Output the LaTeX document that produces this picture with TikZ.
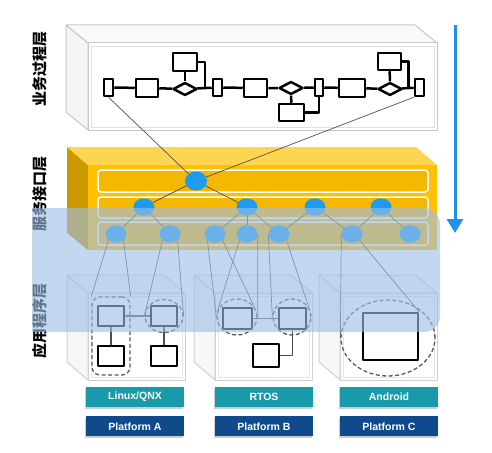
\documentclass[tikz,border=0pt]{standalone}
\usepackage{fontspec}
\newfontfamily\cjk{Noto Sans CJK SC}
\newfontfamily\tilefont{Liberation Sans}
\usetikzlibrary{shapes.geometric,arrows.meta,calc,positioning,shadows}

\definecolor{ifyellow}{RGB}{255,192,0}
\definecolor{iftop}{RGB}{255,212,80}
\definecolor{ifside}{RGB}{204,152,0}
\definecolor{svcblue}{RGB}{28,155,240}
\definecolor{appblue}{RGB}{158,190,230}
\definecolor{osteal}{RGB}{24,154,168}
\definecolor{pfblue}{RGB}{14,74,140}
\definecolor{linkgray}{RGB}{80,80,80}
\definecolor{flowarrow}{RGB}{30,144,240}

\begin{document}
\begin{tikzpicture}[x=1pt, y=-1pt, line join=round,
    flowbox/.style={draw=black, line width=2.5pt, fill=white, inner sep=0pt},
    flowgate/.style={draw=black, line width=2.5pt, fill=white, diamond, aspect=1.8, inner sep=0pt, minimum width=24pt, minimum height=13pt},
    svc/.style={ellipse, fill=svcblue, inner sep=0pt, minimum width=21pt, minimum height=17.5pt},
    link/.style={draw=linkgray, line width=0.7pt},
    appbox/.style={draw=black, line width=2.3pt, fill=white, inner sep=0pt},
    dashring/.style={draw=black!65, line width=1.3pt, dash pattern=on 4pt off 2.5pt, inner sep=0pt},
    osbox/.style={fill=osteal, text=white, font=\tilefont\bfseries\fontsize{10.5}{12}\selectfont, minimum width=98pt, minimum height=20pt, inner sep=0pt, drop shadow={shadow xshift=-1.5pt, shadow yshift=-2pt, opacity=0.4}},
    pfbox/.style={osbox, fill=pfblue},
    layerlabel/.style={rotate=90, font=\cjk\bfseries\fontsize{15}{15}\selectfont, inner sep=0pt}]
    \useasboundingbox (0,0) rectangle (492,452);

    % business process layer
    \filldraw[draw=black!22, fill=black!4, line width=1pt] (88,43) -- (66,25) -- (66,112) -- (88,130) -- cycle;
    \filldraw[draw=black!22, fill=black!2, line width=1pt] (88,43) -- (66,25) -- (415,25) -- (437,43) -- cycle;
    \filldraw[draw=black!22, fill=white, line width=1pt] (88,43) rectangle (437,130);
    \draw[black!12] (91,46) rectangle (434,127);

    % service interface layer
    \fill[ifside] (88,165) -- (67,147) -- (67,233) -- (88,250) -- cycle;
    \fill[iftop] (88,165) -- (67,147) -- (416,147) -- (437,165) -- cycle;
    \fill[ifyellow] (88,165) rectangle (437,250);
    \foreach \t/\b in {170/192, 197/218, 222/245}
        \draw[white, line width=1.5pt, fill=ifyellow!96!black, rounded corners=3pt] (98,\t) rectangle (428,\b);

    % application layer
    \foreach \l/\r in {88/185, 215/312, 340/437} {
        \filldraw[draw=black!18, fill=black!3, line width=1pt] (\l,293) -- (\l-21,275) -- (\l-21,362) -- (\l,380) -- cycle;
        \filldraw[draw=black!18, fill=black!2, line width=1pt] (\l,293) -- (\l-21,275) -- (\r-21,275) -- (\r,293) -- cycle;
        \filldraw[draw=black!18, fill=white, line width=1pt] (\l,293) rectangle (\r,380);
        \draw[black!10] (\l+3,296) rectangle (\r-3,377);
    }

    % process flow
    \node[flowbox, minimum width=9pt, minimum height=17pt]  (p1)  at (108.5,87.5) {};
    \node[flowbox, minimum width=22pt, minimum height=18pt] (p2)  at (147,88)     {};
    \node[flowgate]                                         (d1)  at (185,89)     {};
    \node[flowbox, minimum width=24pt, minimum height=18pt] (p3)  at (185,62)     {};
    \node[flowbox, minimum width=9pt, minimum height=17pt]  (p4)  at (217.5,87.5) {};
    \node[flowbox, minimum width=23pt, minimum height=18pt] (p5)  at (255.5,88)   {};
    \node[flowgate]                                         (d2)  at (291,88)     {};
    \node[flowbox, minimum width=25pt, minimum height=17pt] (p6)  at (291.5,112.5) {};
    \node[flowbox, minimum width=8pt, minimum height=17pt]  (p7)  at (319,87.5)   {};
    \node[flowbox, minimum width=26pt, minimum height=18pt] (p8)  at (352,88)     {};
    \node[flowgate]                                         (d3)  at (390,89)     {};
    \node[flowbox, minimum width=23pt, minimum height=17pt] (p9)  at (389.5,61.5) {};
    \node[flowbox, minimum width=9pt, minimum height=17pt]  (p10) at (419.5,87.5) {};
    \coordinate (j1) at ($(d1.east)!.5!(p4.west)$);
    \coordinate (j2) at ($(d3.east)!.5!(p10.west)$);

    \draw[line width=2.5pt] (p1) -- (p2) -- (d1) -- (p4) -- (p5) -- (d2) -- (p7) -- (p8) -- (d3) -- (p10);
    \draw[line width=2.5pt] (d1) -- (p3);
    \draw[line width=2.5pt] (p3.east) -| (j1);
    \draw[line width=2.5pt] (d2) -- (p6);
    \draw[line width=2.5pt] (p6.east) -| (p7.south);
    \draw[line width=2.5pt] (d3) -- (p9);
    \draw[line width=2.5pt] (p9.east) -| (j2);

    % services
    \node[svc, minimum width=22pt, minimum height=19pt] (s0) at (196,181) {};
    \node[svc] (a1) at (144,207) {};
    \node[svc] (a2) at (247,207) {};
    \node[svc] (a3) at (315,207) {};
    \node[svc] (a4) at (381,207) {};
    \node[svc] (b1) at (116,234) {};
    \node[svc] (b2) at (170,234) {};
    \node[svc] (b3) at (215,234) {};
    \node[svc] (b4) at (247,234) {};
    \node[svc] (b5) at (279,234) {};
    \node[svc] (b6) at (352,234) {};
    \node[svc] (b7) at (410,234) {};

    \draw[link] (p1.south) -- (s0);
    \draw[link] (p10.south west) -- (s0);
    \path[link] (s0) edge (a1) edge (a2)
                (a1) edge (b1) edge (b2)
                (a2) edge (b3) edge (b4) edge (b5)
                (a3) edge (b5) edge (b6)
                (a4) edge (b6) edge (b7);

    % applications
    \node[appbox, minimum width=26pt, minimum height=20pt] (ra1) at (111,316) {};
    \node[appbox, minimum width=26pt, minimum height=20pt] (ra2) at (164,316) {};
    \node[appbox, minimum width=26pt, minimum height=20pt] (ra3) at (111,356) {};
    \node[appbox, minimum width=26pt, minimum height=20pt] (ra4) at (164,356) {};
    \node[appbox, minimum width=29pt, minimum height=21pt] (rb1) at (237.5,318.5) {};
    \node[appbox, minimum width=27pt, minimum height=21pt] (rb2) at (292.5,318.5) {};
    \node[appbox, minimum width=26pt, minimum height=23pt] (rb3) at (266,355.5) {};
    \node[appbox, minimum width=55pt, minimum height=47pt] (rc)  at (390.5,336.5) {};

    \node[dashring, rounded corners=8pt, minimum width=38pt, minimum height=78pt] (ga) at (111,336) {};
    \node[dashring, ellipse, minimum width=38pt, minimum height=33pt] (gA) at (164,316) {};
    \node[dashring, ellipse, minimum width=40pt, minimum height=36pt] (gb) at (237,317) {};
    \node[dashring, ellipse, minimum width=38pt, minimum height=36pt] (gB) at (292,317) {};
    \node[dashring, ellipse, minimum width=94pt, minimum height=76pt] (gc) at (388,338) {};

    \draw[black!70, line width=1.4pt] (ra1) -- (ra2);
    \draw[black!70, line width=1.4pt] (ra1) -- (ra3);
    \draw[black!70, line width=1.4pt] (ra2) -- (ra4);
    \draw[black!70, line width=1.4pt] (rb1) -- (rb2);
    \draw[black!70, line width=1.4pt] (rb2.south) |- (rb3.east);

    \draw[link] (b1.south west) -- (ga.north west);
    \draw[link] (b1.south east) -- (ga.north east);
    \draw[link] (b2.south west) -- (gA.west);
    \draw[link] (b2.south east) -- (gA.east);
    \draw[link] (b3.south west) -- (gb.west);
    \draw[link] (b3.south east) -- (gb.30);
    \draw[link] (b4.south west) -- (gb.165);
    \draw[link] (b4.east) -- (gb.east);
    \draw[link] (b5.west) -- (gB.west);
    \draw[link] (b5.south east) -- (gB.30);
    \draw[link] (b6.west) -- (gc.west);
    \draw[link] (b6.south east) -- (rc.north east);

    % layer names
    \node[layerlabel] (lbiz) at (40,69)  {业务过程层};
    \node[layerlabel] (lsvc) at (40,194) {服务接口层};
    \node[layerlabel] (lapp) at (40,321) {应用程序层};

    % application band
    \begin{scope}
        \clip (32,200) rectangle (450,340);
        \fill[appblue, opacity=0.62, rounded corners=16pt] (10,208) rectangle (440,332);
    \end{scope}

    % platforms
    \node[osbox] (osa) at (135,397) {Linux/QNX};
    \node[osbox] (osb) at (264,397) {RTOS};
    \node[osbox] (osc) at (389,397) {Android};
    \node[pfbox, below=9pt of osa] (pfa) {Platform A};
    \node[pfbox, below=9pt of osb] (pfb) {Platform B};
    \node[pfbox, below=9pt of osc] (pfc) {Platform C};

    % direction
    \coordinate (flowtop) at (455,25);
    \coordinate (flowend) at (455,233);
    \draw[flowarrow, line width=3pt, -{Triangle[width=16pt, length=14pt]}] (flowtop) -- (flowend);
\end{tikzpicture}
\end{document}
